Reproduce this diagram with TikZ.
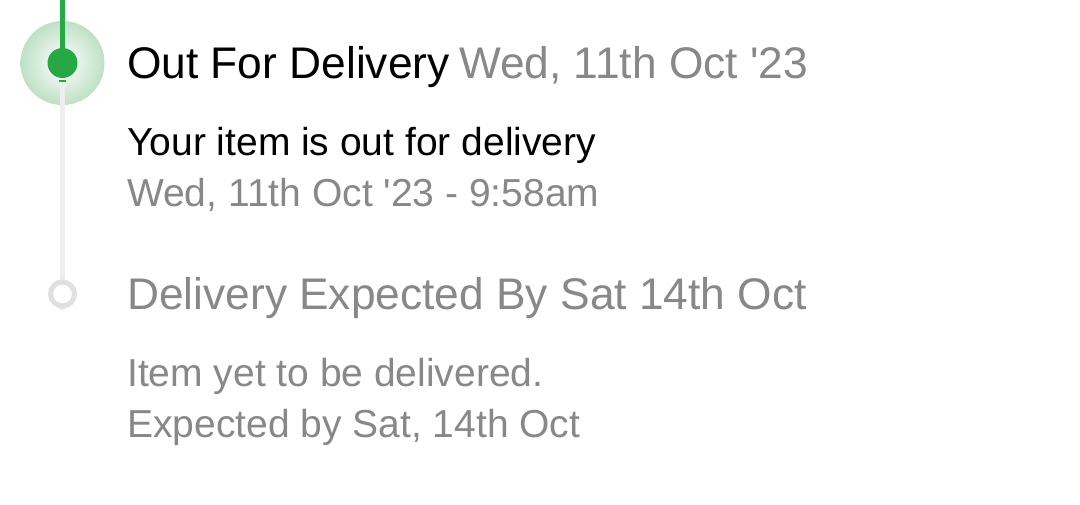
\documentclass[tikz,border=0pt]{standalone}
\usepackage{fontspec}
\setmainfont{Liberation Sans}
\definecolor{okgreen}{HTML}{28A745}
\definecolor{halogreen}{HTML}{BFE0C5}
\definecolor{txtgrey}{HTML}{888888}
\definecolor{linegrey}{HTML}{EEEEEE}
\definecolor{ringgrey}{HTML}{E0E0E0}
\tikzset{
  big/.style={anchor=base west, inner sep=0pt, font=\fontsize{44.3}{50}\selectfont},
  small/.style={anchor=base west, inner sep=0pt, font=\fontsize{39}{44}\selectfont},
  grey/.style={text=txtgrey},
}
\begin{document}
\begin{tikzpicture}[x=1pt,y=-1pt]
\useasboundingbox[fill=white] (0,0) rectangle (1080,504);
% rail
\coordinate (top) at (62.5,0);
\coordinate (c1) at (62.5,63);
\coordinate (c2) at (62.5,294);
\coordinate (railend) at (62.5,310);
\shade[inner color=white, outer color=halogreen] (c1) circle[radius=42];
\draw[linegrey, line width=4.5pt] (62.5,83) -- (railend);
\draw[okgreen, line width=4.5pt] (top) -- (c1);
\fill[okgreen] (c1) circle[radius=15];
\fill[okgreen] (59,79.5) rectangle (66,81.5);
\draw[ringgrey, line width=5pt, fill=white] (c2) circle[radius=12];
% texts
\node[big] (t1) at (127,78) {Out For Delivery};
\node[big, grey, anchor=base west] (t1b) at ([xshift=9pt]t1.base east) {Wed, 11th Oct \textquotesingle23};
\node[small] (t2) at (127,155) {Your item is out for delivery};
\node[small, grey] (t3) at (127,206) {Wed, 11th Oct \textquotesingle23 - 9:58am};
\node[big, grey] (t4) at (127,309) {Delivery Expected By Sat 14th Oct};
\node[small, grey] (t5) at (127,386) {Item yet to be delivered.};
\node[small, grey] (t6) at (127,437) {Expected by Sat, 14th Oct};
\end{tikzpicture}
\end{document}
